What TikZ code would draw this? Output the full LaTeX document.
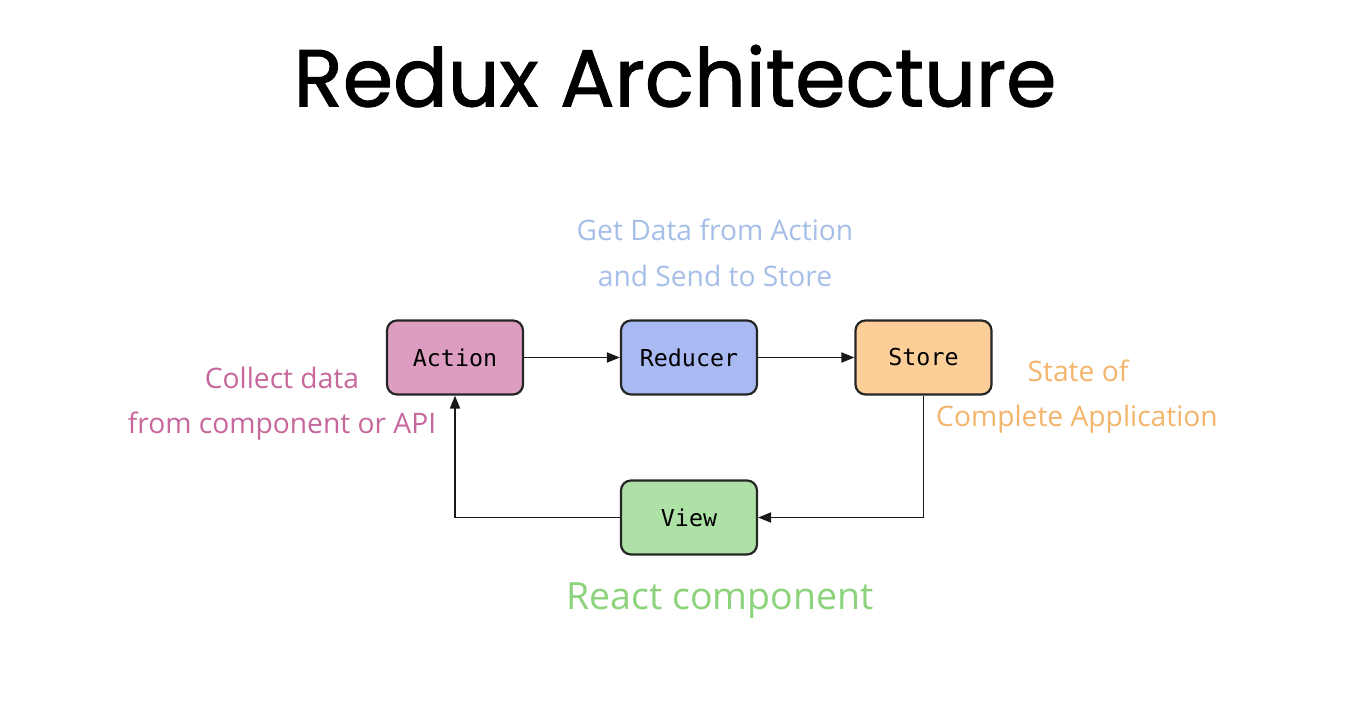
\documentclass[tikz,border=0pt]{standalone}
\usepackage{fontspec}
\setmainfont{Open Sans}
\newfontfamily\titlefont[UprightFeatures={FakeBold=1.2}]{Poppins}
\newfontfamily\boxfont{DejaVu Sans Mono}
\usetikzlibrary{arrows.meta}
\definecolor{actfill}{HTML}{DD9DC0}
\definecolor{redfill}{HTML}{A9B9F2}
\definecolor{stofill}{HTML}{FCCF98}
\definecolor{viefill}{HTML}{AEE1A5}
\definecolor{actcol}{HTML}{C7679C}
\definecolor{redcol}{HTML}{A6BFE8}
\definecolor{stocol}{HTML}{F3B56C}
\definecolor{viecol}{HTML}{8CD37C}
\tikzset{
  box/.style={draw=black!85, line width=2.2pt, rounded corners=10pt, minimum width=136pt, minimum height=74pt, inner sep=0pt, font=\boxfont\fontsize{23.3}{26}\selectfont},
  conn/.style={line width=1.8pt, draw=black!90, -{Triangle[length=13pt,width=10pt]}},
  note/.style={font=\fontsize{28.2}{32}\selectfont, align=center, inner sep=0pt}
}
\begin{document}
\begin{tikzpicture}[x=1pt,y=-1pt]
\useasboundingbox (0,0) rectangle (1366,709);
\fill[white] (0,0) rectangle (1366,709);
\node[font=\titlefont\fontsize{81}{90}\selectfont, inner sep=0pt] (title) at (675,76) {Redux Architecture};
\node[box, fill=actfill] (action) at (455,357.5) {Action};
\node[box, fill=redfill] (reducer) at (689,357.5) {Reducer};
\node[box, fill=stofill] (store) at (923.5,357.5) {Store};
\node[box, fill=viefill] (view) at (689,517.5) {View};
\coordinate (sc) at (923.5,517.5);
\coordinate (ac) at (455,517.5);
\draw[conn] (action) -- (reducer);
\draw[conn] (reducer) -- (store);
\draw[conn] (store.south) -- (sc) -- (view.east);
\draw[conn] (view.west) -- (ac) -- (action.south);
\node[note, text=redcol] (rnote1) at (715,230) {Get Data from Action};
\node[note, text=redcol] (rnote2) at (715,276) {and Send to Store};
\node[note, text=actcol] (anote1) at (282,378) {Collect data};
\node[note, text=actcol] (anote2) at (282,426) {from component or API};
\node[note, text=stocol] (snote1) at (1078,371) {State of};
\node[note, text=stocol] (snote2) at (1077,419) {Complete Application};
\node[note, text=viecol, font=\fontsize{37.5}{44}\selectfont] (vnote) at (720,601) {React component};
\end{tikzpicture}
\end{document}
